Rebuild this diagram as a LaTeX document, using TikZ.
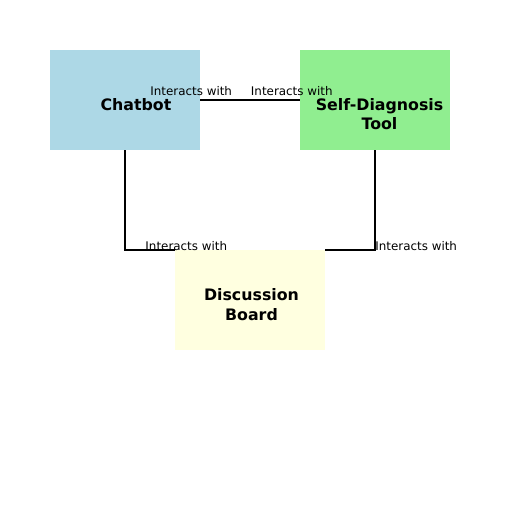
\documentclass[tikz,border=0pt]{standalone}
\usepackage{fontspec}
\setmainfont{DejaVu Sans}
\definecolor{chatblue}{RGB}{173,216,230}
\definecolor{toolgreen}{RGB}{144,238,144}
\definecolor{boardyellow}{RGB}{255,255,224}
\begin{document}
\begin{tikzpicture}[x=1pt,y=-1pt]
	\tikzstyle{box}=[rectangle, minimum width=150pt, minimum height=100pt, inner sep=0pt]
	\tikzstyle{boxname}=[font=\fontsize{15.8}{19.3}\selectfont\bfseries, align=center, inner sep=0pt]
	\tikzstyle{tag}=[font=\fontsize{11.9}{14}\selectfont, inner sep=0pt]
	\tikzstyle{wire}=[line width=1.5pt, black]
	\useasboundingbox (0,0) rectangle (512,512);
	% Boxes
	\node at (125,100) [box, fill=chatblue] (chatbot) {};
	\node at (375,100) [box, fill=toolgreen] (selfdiag) {};
	\node at (250,300) [box, fill=boardyellow] (board) {};
	%---------------------%
	% Edges
	\draw [wire] (chatbot.east) -- (selfdiag.west);
	\draw [wire] (chatbot.south) |- (board.north west);
	\draw [wire] (selfdiag.south) |- (board.north east);
	%---------------------%
	% Box names
	\node at ([shift={(11,4.4)}]chatbot.center) [boxname] (chatbot_name) {Chatbot};
	\node at ([shift={(4.5,14.4)}]selfdiag.center) [boxname] (selfdiag_name) {Self-Diagnosis\\Tool};
	\node at ([shift={(1.5,4.6)}]board.center) [boxname] (board_name) {Discussion\\Board};
	% Edge tags
	\node at ([shift={(-9,-8.8)}]chatbot.east) [tag] (tag_1) {Interacts with};
	\node at ([shift={(-8,-8.8)}]selfdiag.west) [tag] (tag_2) {Interacts with};
	\node at ([shift={(11.5,-3.8)}]board.north west) [tag] (tag_3) {Interacts with};
	\node at ([shift={(91,-3.8)}]board.north east) [tag] (tag_4) {Interacts with};
\end{tikzpicture}
\end{document}
